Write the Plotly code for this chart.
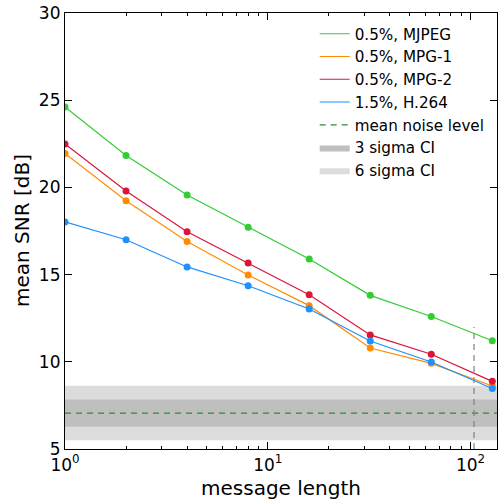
import plotly.graph_objects as go

msg_len = [1, 2, 4, 8, 16, 32, 64, 128]
series_names = ["0.5%, MJPEG", "0.5%, MPG-1", "0.5%, MPG-2", "1.5%, H.264"]
mjpeg = [24.61, 21.83, 19.56, 17.71, 15.89, 13.81, 12.60, 11.21]
mpg1 = [21.95, 19.24, 16.90, 14.98, 13.22, 10.79, 9.91, 8.61]
mpg2 = [22.49, 19.79, 17.46, 15.66, 13.85, 11.54, 10.43, 8.88]
h264 = [18.02, 17.00, 15.44, 14.36, 13.03, 11.19, 9.99, 8.47]
colors = ["#33cc33", "#ff8c00", "#dc143c", "#1e90ff"]

noise_mean = 7.06
noise_sigma = 0.26
x_range = [1, 135]
vline_x = 104
vline_y = [5, 12]
y_range = [5, 30]
major_x = [1, 10, 100]
major_x_text = ["10<sup>0</sup>", "10<sup>1</sup>", "10<sup>2</sup>"]
minor_x = [2, 3, 4, 5, 6, 7, 8, 9, 20, 30, 40, 50, 60, 70, 80, 90]
y_ticks = [5, 10, 15, 20, 25, 30]

FONT = "DejaVu Sans"
fig = go.Figure()

for k, col, name, rank in [(6, "#dcdcdc", "6 sigma CI", 7), (3, "#bfbfbf", "3 sigma CI", 6)]:
    lo = noise_mean - k * noise_sigma
    hi = noise_mean + k * noise_sigma
    fig.add_trace(go.Scatter(
        x=[x_range[0], x_range[1], x_range[1], x_range[0], x_range[0]],
        y=[lo, lo, hi, hi, lo], fill="toself", fillcolor=col,
        line=dict(width=0), mode="lines", name=name, legendrank=rank,
        hoverinfo="skip"))

fig.add_trace(go.Scatter(
    x=x_range, y=[noise_mean, noise_mean], mode="lines",
    line=dict(color="#2e8b2e", width=1.2, dash="6px,5px"),
    name="mean noise level", legendrank=5))

fig.add_trace(go.Scatter(
    x=[vline_x, vline_x], y=vline_y, mode="lines",
    line=dict(color="#808080", width=1.2, dash="6px,5px"),
    showlegend=False))

for i, (name, vals) in enumerate(zip(series_names, [mjpeg, mpg1, mpg2, h264])):
    fig.add_trace(go.Scatter(
        x=msg_len, y=vals, mode="lines", name=name, legendgroup=name,
        line=dict(color=colors[i], width=1.2), legendrank=i + 1))
    fig.add_trace(go.Scatter(
        x=msg_len, y=vals, mode="markers", legendgroup=name, showlegend=False,
        marker=dict(color=colors[i], size=7)))

# invisible trace on minor-tick axis
fig.add_trace(go.Scatter(x=x_range, y=y_range, mode="markers", xaxis="x2",
                         marker=dict(opacity=0), showlegend=False, hoverinfo="skip"))

fig.update_layout(
    width=498, height=501,
    margin=dict(l=65, r=1, t=13, b=52),
    plot_bgcolor="white", paper_bgcolor="white",
    font=dict(family=FONT, size=17, color="black"),
    legend=dict(x=0.578, y=0.99, xanchor="left", yanchor="top",
                bgcolor="rgba(0,0,0,0)", font=dict(size=15.2, family=FONT),
                tracegroupgap=0),
    showlegend=True,
    xaxis=dict(
        type="log", range=[0, 2.1303], automargin=False, ticklabeloverflow="allow",
        tickvals=major_x, ticktext=major_x_text,
        ticks="inside", ticklen=7, tickcolor="black", showgrid=False, zeroline=False,
        showline=True, linecolor="black", linewidth=1.2, mirror="ticks"),
    xaxis2=dict(
        type="log", range=[0, 2.1303], overlaying="x", anchor="y", side="bottom",
        automargin=False, tickvals=minor_x, showticklabels=False,
        ticks="inside", ticklen=3, tickcolor="black", showgrid=False, zeroline=False,
        showline=False, mirror="ticks"),
    yaxis=dict(
        range=y_range, automargin=False, tickvals=y_ticks, ticklabeloverflow="allow",
        ticks="inside", ticklen=7, tickcolor="black", showgrid=False, zeroline=False,
        showline=True, linecolor="black", linewidth=1.2, mirror="ticks"),
    annotations=[
        dict(text="message length", xref="paper", yref="paper", x=0.5, y=0,
             yshift=-39, yanchor="middle", showarrow=False, font=dict(size=20)),
        dict(text="mean SNR [dB]", xref="paper", yref="paper", x=0, y=0.5,
             xshift=-43, xanchor="center", textangle=-90, showarrow=False,
             font=dict(size=20)),
    ],
)

fig.write_html("out.html", config={"displayModeBar": False},
               post_script="document.body.style.margin='0px';")
